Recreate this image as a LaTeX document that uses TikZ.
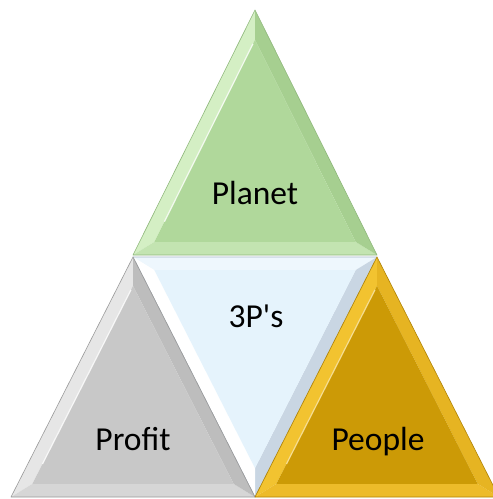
\documentclass[tikz,border=0pt]{standalone}
\usepackage{fontspec}
\setmainfont{Carlito}[Ligatures=TeXOff]
\usetikzlibrary{calc}
\definecolor{gMain}{HTML}{B0D89B}
\definecolor{gLeft}{HTML}{D4EFC4}
\definecolor{gRight}{HTML}{A6CF90}
\definecolor{gBot}{HTML}{C3E4B1}
\definecolor{gEdge}{HTML}{8FB87C}
\definecolor{sMain}{HTML}{C8C8C8}
\definecolor{sLeft}{HTML}{E6E6E6}
\definecolor{sRight}{HTML}{BDBDBD}
\definecolor{sBot}{HTML}{D6D6D6}
\definecolor{sEdge}{HTML}{9A9A9A}
\definecolor{oMain}{HTML}{CC9A06}
\definecolor{oLeft}{HTML}{F2C330}
\definecolor{oRight}{HTML}{E6B422}
\definecolor{oBot}{HTML}{EDBB2A}
\definecolor{oEdge}{HTML}{B08305}
\definecolor{bMain}{HTML}{E5F3FC}
\definecolor{bLeft}{HTML}{FFFFFF}
\definecolor{bRight}{HTML}{C9D6E3}
\definecolor{bTop}{HTML}{EEF7FD}
\definecolor{bEdge}{HTML}{A9B8C8}
\newcommand\bk{0.825}
% #1 prefix, #2 AB facet, #3 BC facet, #4 CA facet, #5 main, #6 edge
\newcommand\bevtri[6]{%
  \coordinate (#1a) at ($(#1I)!\bk!(#1A)$);
  \coordinate (#1b) at ($(#1I)!\bk!(#1B)$);
  \coordinate (#1c) at ($(#1I)!\bk!(#1C)$);
  \fill[#2] (#1A) -- (#1B) -- (#1b) -- (#1a) -- cycle;
  \fill[#3] (#1B) -- (#1C) -- (#1c) -- (#1b) -- cycle;
  \fill[#4] (#1C) -- (#1A) -- (#1a) -- (#1c) -- cycle;
  \fill[#5] (#1a) -- (#1b) -- (#1c) -- cycle;
  \draw[#6, line width=0.6pt, line join=round] (#1A) -- (#1B) -- (#1C) -- cycle;
}
\tikzset{lbl/.style={anchor=base, text=black, font=\fontsize{33.5}{40}\selectfont, inner sep=0pt}}
\begin{document}
\begin{tikzpicture}[x=1pt, y=-1pt]
\useasboundingbox (0,0) rectangle (493,499);
\fill[white] (0,0) rectangle (493,499);
% top (Planet)
\coordinate (tA) at (255,10);
\coordinate (tB) at (133,255);
\coordinate (tC) at (377,255);
\coordinate (tI) at (255,180);
% bottom left (Profit)
\coordinate (lA) at (133,257);
\coordinate (lB) at (11,497);
\coordinate (lC) at (255,497);
\coordinate (lI) at (133,422);
% bottom right (People)
\coordinate (rA) at (377,257);
\coordinate (rB) at (255,497);
\coordinate (rC) at (499,497);
\coordinate (rI) at (377,422);
% middle inverted (3P's)
\coordinate (mA) at (133,257);
\coordinate (mB) at (377,257);
\coordinate (mC) at (255,497);
\coordinate (mI) at (255,332);
\bevtri{m}{bTop}{bRight}{bLeft}{bMain}{bEdge}
\bevtri{t}{gLeft}{gBot}{gRight}{gMain}{gEdge}
\bevtri{l}{sLeft}{sBot}{sRight}{sMain}{sEdge}
\bevtri{r}{oLeft}{oBot}{oRight}{oMain}{oEdge}
% highlights
\draw[white, line width=1.2pt, opacity=0.8] ($(ta)!0.02!(tb)$) -- ($(ta)!0.9!(tb)$);
\draw[white, line width=1.2pt, opacity=0.8] ($(la)!0.02!(lb)$) -- ($(la)!0.9!(lb)$);
\draw[white!60!oLeft, line width=1.2pt, opacity=0.8] ($(ra)!0.02!(rb)$) -- ($(ra)!0.9!(rb)$);
\node[lbl] (planet) at (255,204) {Planet};
\node[lbl] (threeps) at (256,327) {3P's};
\node[lbl] (profit) at (133,450) {Profit};
\node[lbl] (people) at (378,450) {People};
\end{tikzpicture}
\end{document}
